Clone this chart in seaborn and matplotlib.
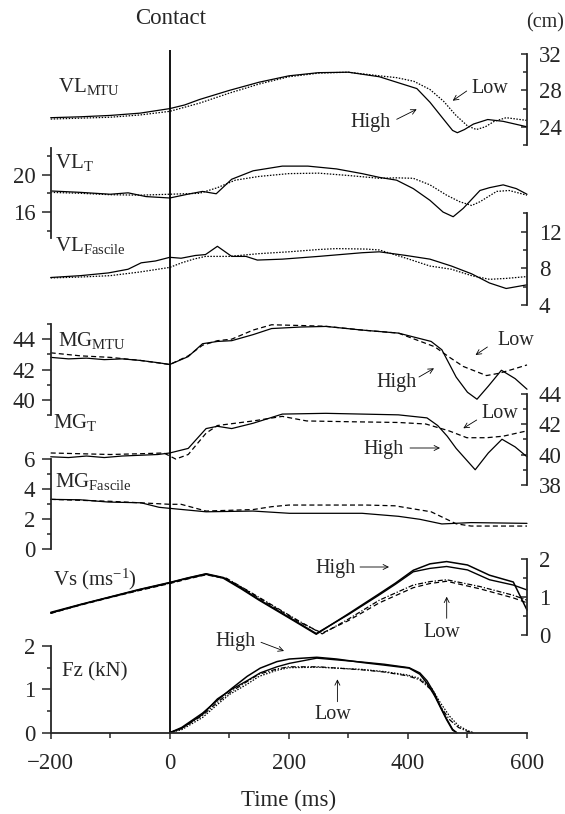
import matplotlib
matplotlib.use("Agg")
import matplotlib.pyplot as plt
import seaborn as sns
import numpy as np

# ---- data ----
# VL MTU (cm)
t_vlmtu_hi = [-200, -150, -100, -50, 0, 25, 50, 100, 150, 200, 250, 300, 352, 381, 415, 437, 459, 475, 483, 495, 510, 534, 560, 600]
vlmtu_hi = [25.0, 25.1, 25.25, 25.5, 26.0, 26.4, 27.0, 28.0, 28.9, 29.6, 29.95, 30.0, 29.5, 28.9, 28.2, 26.7, 24.9, 23.6, 23.35, 23.7, 24.3, 24.8, 24.6, 24.0]
t_vlmtu_lo = [-200, -100, -50, 0, 50, 100, 150, 200, 250, 300, 352, 381, 410, 437, 460, 480, 500, 515, 530, 545, 565, 600]
vlmtu_lo = [24.85, 25.05, 25.3, 25.7, 26.6, 27.7, 28.7, 29.5, 29.9, 30.0, 29.6, 29.4, 29.0, 28.1, 26.8, 25.3, 24.1, 23.7, 24.0, 24.6, 25.0, 24.7]

# VL tendon
t_vlt_hi = [-200, -150, -100, -70, -40, 0, 30, 55, 78, 104, 140, 189, 232, 280, 323, 352, 381, 409, 437, 459, 476, 493, 521, 537, 560, 582, 600]
vlt_hi = [18.25, 18.1, 17.9, 18.05, 17.65, 17.5, 17.9, 18.2, 17.95, 19.5, 20.4, 20.9, 20.9, 20.6, 20.1, 19.7, 19.4, 18.5, 17.25, 16.0, 15.5, 16.4, 18.3, 18.6, 18.9, 18.5, 17.9]
t_vlt_lo = [-200, -150, -100, -50, 0, 50, 80, 110, 150, 200, 250, 300, 352, 381, 409, 437, 465, 487, 507, 521, 549, 570, 600]
vlt_lo = [18.1, 18.0, 17.85, 17.8, 17.9, 18.0, 18.6, 19.4, 19.8, 20.1, 20.15, 19.9, 19.6, 19.65, 19.6, 18.9, 17.8, 17.1, 16.7, 17.1, 18.2, 18.3, 17.8]

# VL fascicle
t_vlf_hi = [-200, -150, -103, -70, -48, -24, 0, 19, 43, 60, 80, 104, 128, 147, 189, 250, 323, 352, 397, 437, 473, 507, 537, 565, 600]
vlf_hi = [7.0, 7.2, 7.5, 7.9, 8.6, 8.8, 9.2, 9.1, 9.4, 9.5, 10.4, 9.3, 9.3, 8.9, 9.0, 9.3, 9.7, 9.8, 9.4, 9.0, 8.25, 7.4, 6.4, 5.8, 6.2]
t_vlf_lo = [-200, -150, -100, -50, 0, 20, 40, 60, 100, 150, 200, 250, 280, 330, 352, 397, 437, 473, 507, 537, 565, 600]
vlf_lo = [6.95, 7.05, 7.2, 7.6, 8.1, 8.6, 9.0, 9.3, 9.3, 9.6, 9.8, 10.05, 10.15, 10.1, 10.0, 9.1, 8.25, 7.9, 7.2, 6.8, 6.9, 7.1]

# MG MTU
t_mgmtu_hi = [-200, -170, -140, -110, -80, -50, -20, 0, 31, 55, 80, 104, 140, 171, 220, 262, 323, 384, 439, 457, 481, 500, 516, 535, 557, 580, 600]
mgmtu_hi = [42.8, 42.7, 42.75, 42.65, 42.7, 42.6, 42.45, 42.33, 42.85, 43.7, 43.85, 43.9, 44.3, 44.7, 44.8, 44.84, 44.6, 44.4, 43.85, 43.3, 41.5, 40.5, 40.04, 40.9, 41.95, 41.4, 40.7]
t_mgmtu_lo = [-200, -150, -100, -50, 0, 31, 55, 80, 104, 140, 171, 220, 262, 323, 384, 445, 470, 493, 532, 553, 575, 600]
mgmtu_lo = [43.1, 42.9, 42.8, 42.6, 42.33, 42.9, 43.6, 43.9, 44.0, 44.6, 44.95, 44.9, 44.85, 44.6, 44.4, 43.5, 42.8, 42.2, 41.6, 41.75, 42.0, 42.3]

# MG tendon
t_mgt_hi = [-200, -170, -140, -110, -80, -50, -20, 0, 31, 61, 80, 104, 140, 189, 262, 323, 384, 432, 450, 466, 481, 513, 535, 558, 580, 600]
mgt_hi = [39.85, 39.8, 39.9, 39.8, 39.9, 39.95, 40.0, 40.1, 40.4, 41.7, 41.85, 41.7, 42.05, 42.65, 42.7, 42.65, 42.6, 42.4, 41.9, 41.2, 40.4, 39.0, 40.1, 41.0, 40.5, 39.85]
t_mgt_lo = [-200, -150, -100, -50, -10, 10, 31, 61, 80, 140, 189, 230, 300, 384, 430, 469, 499, 532, 560, 600]
mgt_lo = [40.1, 40.05, 40.0, 40.05, 40.1, 39.7, 40.0, 41.4, 41.9, 42.2, 42.5, 42.2, 42.15, 42.1, 42.0, 41.55, 41.1, 41.1, 41.2, 41.55]

# MG fascicle
t_mgf_hi = [-200, -150, -103, -48, -18, 0, 61, 140, 201, 323, 384, 420, 457, 506, 600]
mgf_hi = [3.33, 3.3, 3.15, 3.1, 2.8, 2.73, 2.5, 2.55, 2.4, 2.4, 2.2, 2.0, 1.69, 1.78, 1.73]
t_mgf_lo = [-200, -100, -50, 0, 19, 61, 140, 171, 200, 330, 378, 439, 481, 506, 600]
mgf_lo = [3.33, 3.2, 3.1, 3.0, 3.0, 2.55, 2.65, 2.84, 2.95, 2.95, 2.9, 2.5, 1.7, 1.55, 1.55]

# Vs (m/s), two high and two low trials
t_vs_hi = [-200, -150, -100, -50, 0, 30, 61, 90, 120, 150, 180, 210, 246, 300, 350, 379, 409, 437, 465, 500, 537, 577, 600]
vs_hi1 = [0.58, 0.8, 1.0, 1.2, 1.38, 1.5, 1.61, 1.5, 1.22, 0.92, 0.64, 0.36, 0.02, 0.56, 1.07, 1.37, 1.71, 1.88, 1.94, 1.85, 1.58, 1.4, 0.66]
vs_hi2 = [0.6, 0.81, 1.01, 1.21, 1.39, 1.51, 1.62, 1.52, 1.24, 0.94, 0.66, 0.38, 0.04, 0.54, 1.04, 1.34, 1.67, 1.76, 1.81, 1.72, 1.46, 1.32, 1.19]
t_vs_lo = [-200, -150, -100, -50, 0, 30, 61, 95, 128, 158, 188, 218, 256, 300, 352, 409, 437, 465, 521, 577, 600]
vs_lo1 = [0.58, 0.8, 1.0, 1.19, 1.37, 1.49, 1.6, 1.5, 1.2, 0.92, 0.64, 0.36, 0.03, 0.42, 0.92, 1.32, 1.41, 1.46, 1.28, 1.05, 0.92]
vs_lo2 = [0.57, 0.79, 0.99, 1.18, 1.36, 1.48, 1.59, 1.49, 1.19, 0.9, 0.62, 0.34, 0.05, 0.38, 0.85, 1.25, 1.36, 1.42, 1.22, 0.98, 0.85]

# Fz (kN)
t_fz_hi = [0, 20, 55, 80, 104, 130, 152, 180, 201, 247, 280, 323, 360, 402, 420, 432, 445, 454, 465, 475, 482]
fz_hi1 = [0, 0.12, 0.45, 0.75, 1.02, 1.3, 1.49, 1.64, 1.7, 1.74, 1.7, 1.62, 1.56, 1.49, 1.35, 1.14, 0.85, 0.6, 0.3, 0.06, 0.0]
fz_hi2 = [0, 0.1, 0.42, 0.78, 1.0, 1.2, 1.38, 1.52, 1.6, 1.72, 1.68, 1.63, 1.58, 1.5, 1.38, 1.2, 0.9, 0.62, 0.32, 0.08, 0.0]
t_fz_lo = [0, 20, 55, 80, 100, 130, 150, 180, 200, 250, 323, 360, 400, 420, 440, 455, 470, 485, 500, 510]
fz_lo1 = [0, 0.1, 0.4, 0.7, 0.92, 1.18, 1.35, 1.47, 1.52, 1.52, 1.45, 1.4, 1.31, 1.22, 0.98, 0.6, 0.3, 0.12, 0.03, 0.0]
fz_lo2 = [0, 0.07, 0.35, 0.65, 0.88, 1.12, 1.3, 1.44, 1.5, 1.51, 1.46, 1.41, 1.33, 1.25, 1.02, 0.68, 0.38, 0.16, 0.05, 0.0]

x_ticks = [-200, 0, 200, 400, 600]
x_minor = [-100, 100, 300, 500]

# ---- style ----
sns.set_style("ticks")
plt.rcParams["font.family"] = ["Liberation Serif", "DejaVu Serif"]
plt.rcParams["mathtext.fontset"] = "custom"
plt.rcParams["mathtext.rm"] = "Liberation Serif"
plt.rcParams["mathtext.it"] = "Liberation Serif:italic"
plt.rcParams["axes.unicode_minus"] = True

W, H = 565, 814
X0, X1 = 50.7, 527.0
TICK_FS = 16.5
LAB_FS = 15
ANN_FS = 14.5

fig = plt.figure(figsize=(W / 100, H / 100), dpi=100)


def fx(px):
    return px / W


def fy(py):
    return 1 - py / H


def panel(top_px, bot_px, ylim, side, major, minor):
    ax = fig.add_axes([fx(X0), fy(bot_px), (X1 - X0) / W, (bot_px - top_px) / H])
    ax.set_xlim(-200, 600)
    ax.set_ylim(*ylim)
    ax.patch.set_visible(False)
    for s in ["top", "bottom", "left", "right"]:
        ax.spines[s].set_visible(s == side)
    ax.spines[side].set_linewidth(1.3)
    ax.xaxis.set_visible(False)
    ax.set_yticks(major)
    ax.set_yticks(minor, minor=True)
    if side == "right":
        ax.yaxis.tick_right()
        ax.tick_params(axis="y", which="major", direction="in", length=4.5, width=1.1,
                       pad=8.5, labelsize=TICK_FS)
        ax.tick_params(axis="y", which="minor", direction="in", length=3.2, width=1.1)
    else:
        ax.yaxis.tick_left()
        ax.tick_params(axis="y", which="major", direction="out", length=6.5, width=1.1,
                       pad=4.5, labelsize=TICK_FS)
        ax.tick_params(axis="y", which="minor", direction="out", length=3, width=1.1)
    ax.set_xlabel("")
    ax.set_ylabel("")
    return ax


def line(ax, t, v, ls="-", lw=0.9):
    sns.lineplot(x=t, y=v, ax=ax, color="black", linestyle=ls, lw=lw,
                 sort=False, estimator=None, clip_on=False)


DOT = (0, (1.2, 1.2))
DASH = (0, (4, 2.5))
DASHDOT = (0, (4, 1.5, 1, 1.5))

# contact line
bg = fig.add_axes([fx(X0), fy(732.7), (X1 - X0) / W, (732.7 - 50) / H])
bg.set_xlim(-200, 600)
bg.axis("off")
bg.axvline(0, color="black", lw=1.3)

ax1 = panel(54, 145, (22, 32), "right", [24, 28, 32], [22, 26, 30])
line(ax1, t_vlmtu_hi, vlmtu_hi)
line(ax1, t_vlmtu_lo, vlmtu_lo, DOT)

ax2 = panel(148.3, 238.3, (13.2, 22.8), "left", [16, 20], [14, 18, 22])
line(ax2, t_vlt_hi, vlt_hi)
line(ax2, t_vlt_lo, vlt_lo, DOT)

ax3 = panel(213.3, 305, (4, 14), "right", [4, 8, 12], [6, 10, 14])
line(ax3, t_vlf_hi, vlf_hi)
line(ax3, t_vlf_lo, vlf_lo, DOT)

ax4 = panel(324, 415, (39, 45), "left", [40, 42, 44], [39, 41, 43, 45])
line(ax4, t_mgmtu_hi, mgmtu_hi)
line(ax4, t_mgmtu_lo, mgmtu_lo, DASH)

ax5 = panel(393.5, 485, (38, 44), "right", [38, 40, 42, 44], [39, 41, 43])
line(ax5, t_mgt_hi, mgt_hi)
line(ax5, t_mgt_lo, mgt_lo, DASH)

ax6 = panel(459.3, 549.3, (0, 6), "left", [0, 2, 4, 6], [1, 3, 5])
line(ax6, t_mgf_hi, mgf_hi)
line(ax6, t_mgf_lo, mgf_lo, DASH)

ax7 = panel(559.3, 635, (0, 2), "right", [0, 1, 2], [0.5, 1.5])
line(ax7, t_vs_hi, vs_hi1, lw=1.1)
line(ax7, t_vs_hi, vs_hi2, lw=1.0)
line(ax7, t_vs_lo, vs_lo1, DASHDOT)
line(ax7, t_vs_lo, vs_lo2, DASH)

ax8 = panel(646, 732.7, (0, 2), "left", [0, 1, 2], [0.5, 1.5])
ax8.xaxis.set_visible(True)
ax8.spines["bottom"].set_visible(True)
ax8.spines["bottom"].set_linewidth(1.3)
ax8.set_xticks(x_ticks)
ax8.set_xticks(x_minor, minor=True)
ax8.tick_params(axis="x", which="major", direction="out", length=4.5, width=1.1,
                pad=10, labelsize=TICK_FS)
ax8.tick_params(axis="x", which="minor", direction="out", length=3.5, width=1.1)
line(ax8, t_fz_hi, fz_hi1, lw=1.1)
line(ax8, t_fz_hi, fz_hi2, lw=1.0)
line(ax8, t_fz_lo, fz_lo1, DASHDOT)
line(ax8, t_fz_lo, fz_lo2, DOT)

# ---- texts ----
fig.text(fx(171), fy(18), "Contact", ha="center", va="center", fontsize=TICK_FS)
fig.text(fx(526), fy(27), "(cm)", ha="left", va="baseline", fontsize=ANN_FS)
fig.text(fx(289), fy(800), "Time (ms)", ha="center", va="center", fontsize=TICK_FS)

labels = [
    (58, 92, r"VL$_{\mathrm{MTU}}$"),
    (55, 168.3, r"VL$_{\mathrm{T}}$"),
    (55, 250.7, r"VL$_{\mathrm{Fascile}}$"),
    (58, 346, r"MG$_{\mathrm{MTU}}$"),
    (53, 428.3, r"MG$_{\mathrm{T}}$"),
    (55, 486.7, r"MG$_{\mathrm{Fascile}}$"),
    (53, 585, r"Vs (ms$^{-1}$)"),
    (62, 676, "Fz (kN)"),
]
for x, y, s in labels:
    fig.text(fx(x), fy(y), s, ha="left", va="baseline", fontsize=LAB_FS)

# (text, x, y, ha, arrow start, arrow end)
notes = [
    ("Low", 471.7, 93.3, "left", (466.7, 91), (452.7, 100.7)),
    ("High", 391, 126.7, "right", (396.7, 119.3), (416.7, 109.3)),
    ("Low", 497, 345, "left", (487.4, 347), (475.5, 355)),
    ("High", 417, 386.7, "right", (419, 377), (434, 368.3)),
    ("Low", 481.7, 418.3, "left", (476.7, 420), (463.3, 428.3)),
    ("High", 404, 454, "right", (410, 448), (440, 448)),
    ("High", 356, 573.3, "right", (360, 567), (389, 567)),
    ("Low", 441.5, 636.7, "center", (446.7, 618.3), (446.7, 596.7)),
    ("High", 256, 646, "right", (261, 642.3), (284, 651)),
    ("Low", 333, 719, "center", (337.4, 701.7), (337.4, 679.3)),
]
for s, x, y, ha, a0, a1 in notes:
    fig.text(fx(x), fy(y), s, ha=ha, va="baseline", fontsize=ANN_FS)
    bg.annotate("", xy=(fx(a1[0]), fy(a1[1])), xycoords="figure fraction",
                xytext=(fx(a0[0]), fy(a0[1])), textcoords="figure fraction",
                arrowprops=dict(arrowstyle="->", lw=0.6, color="black",
                                shrinkA=0, shrinkB=0, mutation_scale=9))

fig.savefig("out.png", dpi=100)
